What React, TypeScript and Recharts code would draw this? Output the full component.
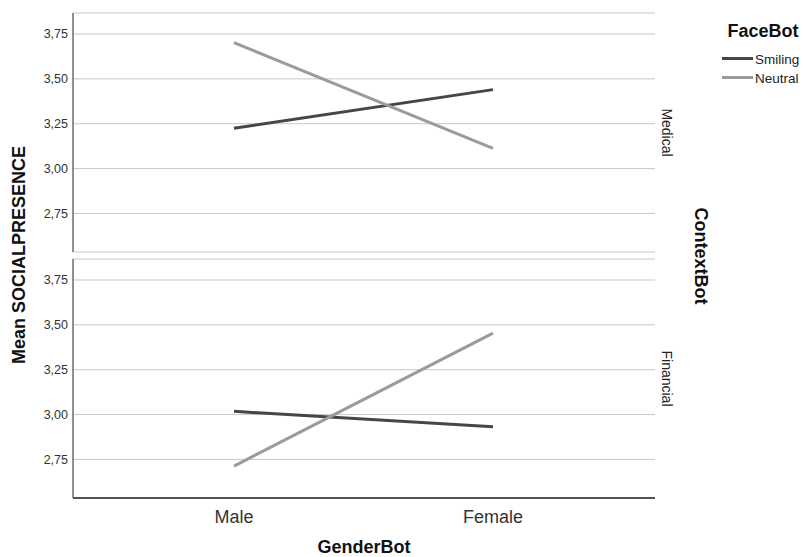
import React from 'react';
import { LineChart, Line, XAxis, YAxis, CartesianGrid } from 'recharts';

const categories = ['Male', 'Female'];
const seriesNames = ['Smiling', 'Neutral'];
const seriesColors = ['#464646', '#9b9b9b'];
const panels = ['Medical', 'Financial'];
const medicalSmiling = [3.225, 3.44];
const medicalNeutral = [3.702, 3.113];
const financialSmiling = [3.018, 2.932];
const financialNeutral = [2.713, 3.454];
const yTicks = [2.75, 3.0, 3.25, 3.5, 3.75];
const yDomain = [2.535, 3.867];

const FONT = '"Liberation Sans", Arial, sans-serif';

const buildData = (a: number[], b: number[]) =>
  categories.map((c, i) => ({ cat: c, Smiling: a[i], Neutral: b[i] }));

const medicalData = buildData(medicalSmiling, medicalNeutral);
const financialData = buildData(financialSmiling, financialNeutral);

const fmt = (v: number) => v.toFixed(2).replace('.', ',');

function Panel({ data, height, margin, showX }: any) {
  return (
    <LineChart width={803} height={height} data={data} margin={margin}>
      <CartesianGrid horizontal vertical={false} stroke="#c8c8c8" strokeWidth={1} />
      <XAxis
        dataKey="cat"
        scale="point"
        padding={{ left: 161, right: 162 }}
        axisLine={{ stroke: '#222', strokeWidth: 1.3 }}
        tickLine={false}
        tick={showX ? { fontSize: 18, fill: '#333', fontFamily: FONT } : false}
        tickSize={10}
        tickMargin={2}
        height={showX ? 30 : 0}
      />
      <YAxis
        type="number"
        domain={yDomain}
        ticks={yTicks}
        allowDataOverflow
        tickFormatter={fmt}
        width={73}
        axisLine={{ stroke: '#555', strokeWidth: 1.3 }}
        tickLine={false}
        tickSize={3}
        tickMargin={2}
        tick={{ fontSize: 12.5, fill: '#333', fontFamily: FONT }}
      />
      {seriesNames.map((s, i) => (
        <Line
          key={s}
          type="linear"
          dataKey={s}
          stroke={seriesColors[i]}
          strokeWidth={3}
          dot={false}
          activeDot={false}
          isAnimationActive={false}
        />
      ))}
    </LineChart>
  );
}

export default function App() {
  return (
    <div
      style={{
        position: 'absolute',
        left: 0,
        top: 0,
        width: 803,
        height: 557,
        background: '#fff',
        overflow: 'hidden',
        fontFamily: FONT,
      }}
    >
      <div style={{ position: 'absolute', left: 0, top: 0 }}>
        <Panel data={medicalData} height={260} margin={{ top: 13, right: 148, bottom: 8, left: 0 }} showX={false} />
      </div>
      <div style={{ position: 'absolute', left: 0, top: 250 }}>
        <Panel data={financialData} height={307} margin={{ top: 9, right: 148, bottom: 29, left: 0 }} showX />
      </div>
      <svg
        width={803}
        height={557}
        style={{ position: 'absolute', left: 0, top: 0, pointerEvents: 'none' }}
        fontFamily={FONT}
      >
        <text
          transform="translate(19,255) rotate(-90)"
          textAnchor="middle"
          dominantBaseline="central"
          fontSize={18}
          fontWeight="bold"
          fill="#111"
        >
          Mean SOCIALPRESENCE
        </text>
        <text x={364} y={553} textAnchor="middle" fontSize={18} fontWeight="bold" fill="#111">
          GenderBot
        </text>
        <text
          transform="translate(701,256) rotate(90)"
          textAnchor="middle"
          dominantBaseline="central"
          fontSize={18}
          fontWeight="bold"
          fill="#111"
        >
          ContextBot
        </text>
        <text
          transform="translate(667,132.5) rotate(90)"
          textAnchor="middle"
          dominantBaseline="central"
          fontSize={14}
          fill="#222"
        >
          {panels[0]}
        </text>
        <text
          transform="translate(667,378.5) rotate(90)"
          textAnchor="middle"
          dominantBaseline="central"
          fontSize={14}
          fill="#222"
        >
          {panels[1]}
        </text>
        <text x={727.5} y={37} fontSize={18} fontWeight="bold" fill="#111">
          FaceBot
        </text>
        {seriesNames.map((s, i) => (
          <g key={s}>
            <line
              x1={722}
              x2={753}
              y1={58.5 + i * 19}
              y2={58.5 + i * 19}
              stroke={seriesColors[i]}
              strokeWidth={3}
            />
            <text x={755} y={64 + i * 19} fontSize={13.5} fill="#222">
              {s}
            </text>
          </g>
        ))}
      </svg>
    </div>
  );
}
